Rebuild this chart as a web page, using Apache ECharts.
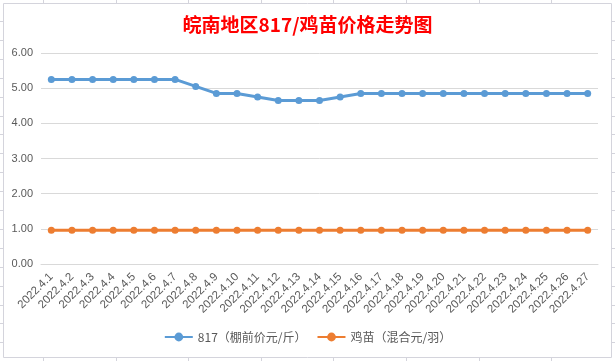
<!DOCTYPE html>
<html>
<head>
<meta charset="utf-8">
<script src="https://cdn.jsdelivr.net/npm/echarts@6/dist/echarts.min.js"></script>
<style>
html,body{margin:0;padding:0;background:#fff;}
#c{width:615px;height:361px;}
</style>
</head>
<body>
<div id="c"></div>
<script>
var categories = ['2022.4.1','2022.4.2','2022.4.3','2022.4.4','2022.4.5','2022.4.6','2022.4.7','2022.4.8','2022.4.9','2022.4.10','2022.4.11','2022.4.12','2022.4.13','2022.4.14','2022.4.15','2022.4.16','2022.4.17','2022.4.18','2022.4.19','2022.4.20','2022.4.21','2022.4.22','2022.4.23','2022.4.24','2022.4.25','2022.4.26','2022.4.27'];
var price817 = [5.25,5.25,5.25,5.25,5.25,5.25,5.25,5.05,4.85,4.85,4.75,4.65,4.65,4.65,4.75,4.85,4.85,4.85,4.85,4.85,4.85,4.85,4.85,4.85,4.85,4.85,4.85];
var chick = [0.96,0.96,0.96,0.96,0.96,0.96,0.96,0.96,0.96,0.96,0.96,0.96,0.96,0.96,0.96,0.96,0.96,0.96,0.96,0.96,0.96,0.96,0.96,0.96,0.96,0.96,0.96];
var seriesNames = ['817（棚前价元/斤）','鸡苗（混合元/羽）'];
var yTicks = [0,1,2,3,4,5,6];

var chart = echarts.init(document.getElementById('c'), null, {renderer:'canvas'});

// decorative worksheet cell-edge ticks + chart border
var deco = [];
var bc = '#d4d4dc';
deco.push({type:'rect', shape:{x:3.5,y:3.5,width:608,height:354}, style:{fill:null, stroke:bc, lineWidth:1}, silent:true});
for (var k=0;k<8;k++){
  var x = Math.round(43+72.6*k)+0.5;
  deco.push({type:'line', shape:{x1:x,y1:0,x2:x,y2:3}, style:{stroke:bc,lineWidth:1}, silent:true});
  deco.push({type:'line', shape:{x1:x,y1:358,x2:x,y2:361}, style:{stroke:bc,lineWidth:1}, silent:true});
}
for (var j=0;j<18;j++){
  var y = Math.round(21+18.9*j)+0.5;
  deco.push({type:'line', shape:{x1:0,y1:y,x2:3,y2:y}, style:{stroke:bc,lineWidth:1}, silent:true});
  deco.push({type:'line', shape:{x1:612,y1:y,x2:615,y2:y}, style:{stroke:bc,lineWidth:1}, silent:true});
}

var option = {
  animation:false,
  backgroundColor:'#ffffff',
  graphic: deco,
  title:{
    text:'皖南地区817/鸡苗价格走势图',
    left:'center',
    top:10,
    textStyle:{color:'#ff0000', fontSize:19, fontWeight:'bold', fontFamily:'Noto Sans CJK SC'}
  },
  legend:{
    bottom:13,
    left:'center',
    itemWidth:28,
    itemHeight:11,
    itemGap:10,
    textStyle:{color:'#595959', fontSize:12, fontFamily:'Noto Sans CJK SC'},
    data:seriesNames
  },
  grid:{left:41, right:17, top:53, bottom:97, containLabel:false},
  xAxis:{
    type:'category',
    data:categories,
    boundaryGap:true,
    axisLine:{show:true, lineStyle:{color:'#d9d9d9', width:1}},
    axisTick:{show:false},
    axisLabel:{rotate:45, color:'#595959', fontSize:11.5, fontFamily:'Liberation Sans', interval:0, margin:11}
  },
  yAxis:{
    type:'value',
    min:yTicks[0],
    max:yTicks[yTicks.length-1],
    interval:1,
    axisLine:{show:false},
    axisTick:{show:false},
    splitLine:{lineStyle:{color:'#d9d9d9', width:1}},
    axisLabel:{color:'#595959', fontSize:11, fontFamily:'Liberation Sans', margin:8,
      formatter:function(v){return v.toFixed(2);}}
  },
  series:[
    {
      name:seriesNames[0], type:'line', data:price817,
      symbol:'circle', symbolSize:7,
      lineStyle:{color:'#5b9bd5', width:3},
      itemStyle:{color:'#5b9bd5'}
    },
    {
      name:seriesNames[1], type:'line', data:chick,
      symbol:'circle', symbolSize:7,
      lineStyle:{color:'#ed7d31', width:3},
      itemStyle:{color:'#ed7d31'}
    }
  ]
};
chart.setOption(option);
</script>
</body>
</html>
